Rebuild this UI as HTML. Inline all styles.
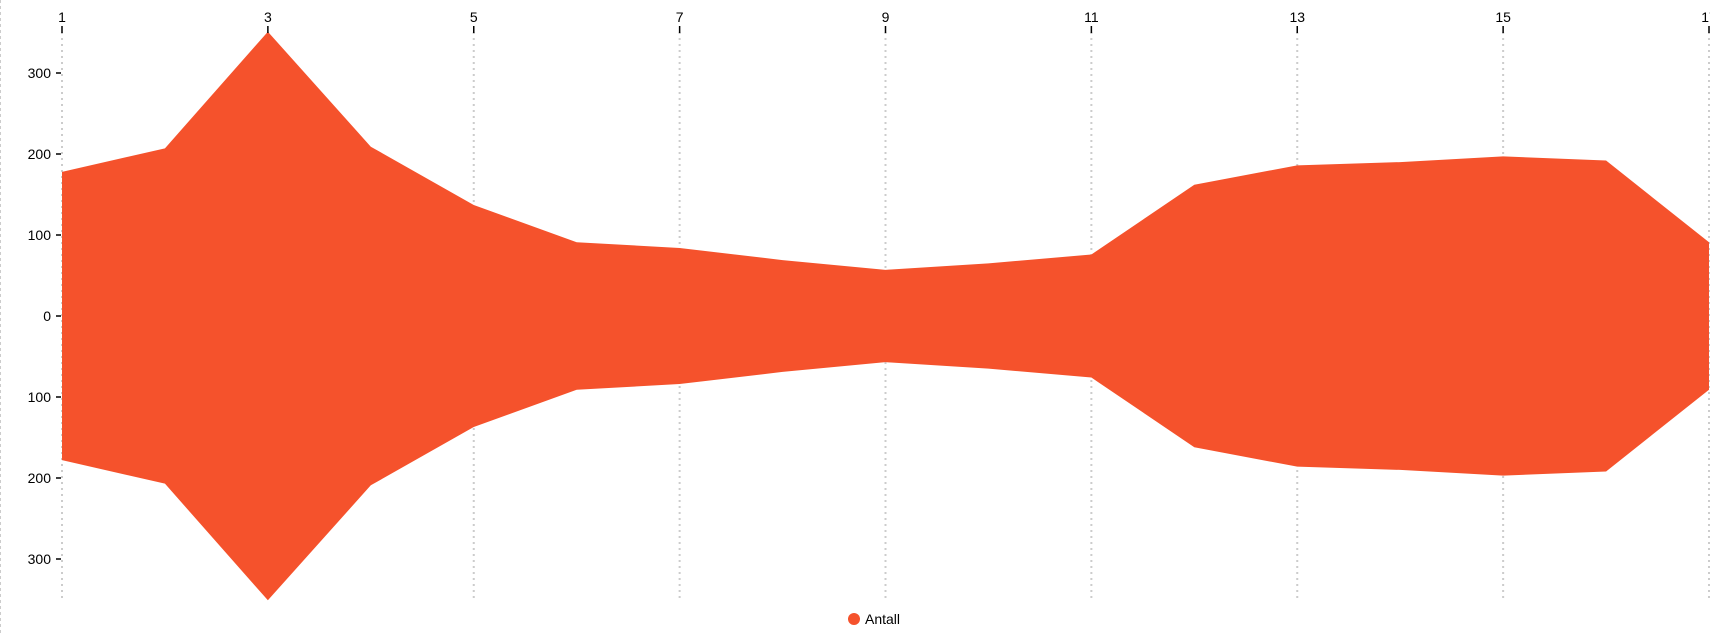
<!DOCTYPE html>
<html><head><meta charset="utf-8"><style>
html,body{margin:0;padding:0;background:#fff;width:1710px;height:634px;overflow:hidden}
svg{font-family:"Liberation Sans",Arial,sans-serif}
</style></head><body>
<svg id="chart" width="1710" height="634">
<line x1="0.5" y1="0" x2="0.5" y2="634" stroke="#ccc" stroke-dasharray="3,3"/>
<g id="grid"></g><g id="area"></g><g id="xaxis"></g><g id="yaxis"></g>
<g>
<circle cx="854" cy="619" r="6" fill="#f5522c"/>
<text x="865" y="624" font-size="14" fill="#000">Antall</text>
</g>
</svg>
<script>
const categories=[1,2,3,4,5,6,7,8,9,10,11,12,13,14,15,16,17];
const values=[178,207,351,209,137,91,84,69,57,65,76,162,186,190,197,192,91];
const xTickLabels=[1,3,5,7,9,11,13,15,17];
const yTickValues=[300,200,100,0,-100,-200,-300];
const NS="http://www.w3.org/2000/svg";
const X0=62,X1=1709,Y0=316,K=0.81;
const xs=c=>X0+(c-1)*(X1-X0)/16;
const ys=v=>Y0-v*K;
function mk(t,a,p){const e=document.createElementNS(NS,t);for(const k in a)e.setAttribute(k,a[k]);p.appendChild(e);return e;}
const grid=document.getElementById('grid'),xa=document.getElementById('xaxis'),ya=document.getElementById('yaxis'),ar=document.getElementById('area');
xTickLabels.forEach(c=>{
  const x=xs(c);
  const g=mk('line',{x1:x,y1:32,x2:x,y2:600,stroke:'#ccc','stroke-width':2,'stroke-dasharray':'2,4'},grid);
  
  
  const t=mk('line',{x1:x,y1:26,x2:x,y2:33,stroke:'#000','stroke-width':1.5},xa);
  
  
  const l=mk('text',{x:x,y:22,'text-anchor':'middle','font-size':14,fill:'#000'},xa);
  l.textContent=c;
  
  
});
yTickValues.forEach(v=>{
  const y=ys(v);
  const t=mk('line',{x1:56,y1:y,x2:61,y2:y,stroke:'#000','stroke-width':1.5},ya);
  
  
  const l=mk('text',{x:51,y:y+5,'text-anchor':'end','font-size':14,fill:'#000'},ya);
  l.textContent=Math.abs(v);
  
  
});
let d='';
categories.forEach((c,i)=>{d+=(i?'L':'M')+xs(c)+','+ys(values[i]);});
for(let i=categories.length-1;i>=0;i--)d+='L'+xs(categories[i])+','+ys(-values[i]);
d+='Z';
const p=mk('path',{d:d,fill:'#f5522c'},ar);


</script>
</body></html>
